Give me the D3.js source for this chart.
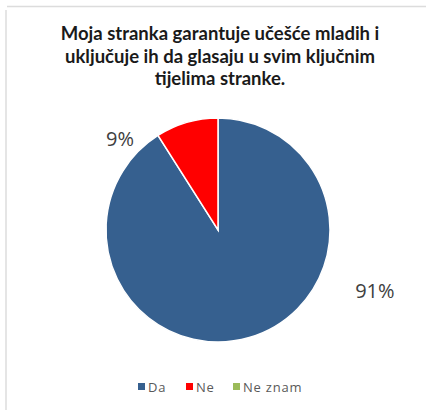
<!DOCTYPE html>
<html>
<head>
<meta charset="utf-8">
<script src="https://cdn.jsdelivr.net/npm/d3@7/dist/d3.min.js"></script>
<style>
  html, body { margin: 0; padding: 0; background: #ffffff; }
  svg { display: block; }
</style>
</head>
<body>
<svg id="chart" width="426" height="410"></svg>
<script>
// ---- data ----
const categories = ["Da", "Ne", "Ne znam"];
const values = [91, 9, 0];
const colors = ["#36608F", "#FF0000", "#9BBB59"];
const titleLines = ["Moja stranka garantuje učešće mladih i", "uključuje ih da glasaju u svim ključnim", "tijelima stranke."];

// ---- layout ----
const W = 426, H = 410;
const cx = 218, cy = 230, R = 112;
const svg = d3.select("#chart");

// frame lines
svg.append("line").attr("x1", 7).attr("x2", W).attr("y1", 6.5).attr("y2", 6.5)
  .attr("stroke", "#dcdcdc").attr("stroke-width", 1.5);
svg.append("line").attr("x1", 6).attr("x2", 6).attr("y1", 10).attr("y2", H)
  .attr("stroke", "#dcdcdc").attr("stroke-width", 1.5);

// title
const title = svg.append("text")
  .attr("text-anchor", "middle")
  .attr("font-family", "Lato, 'Open Sans', sans-serif")
  .attr("font-weight", "bold")
  .attr("font-size", 18.5)
  .attr("fill", "#1a1a1a");
titleLines.forEach((t, i) => {
  title.append("tspan").attr("x", 220).attr("y", 40 + i * 22.5).text(t);
});

// pie
const data = categories.map((c, i) => ({ cat: c, value: values[i], color: colors[i] }));
const pie = d3.pie().value(d => d.value).sort(null).startAngle(0).endAngle(2 * Math.PI);
const arcs = pie(data);
const arc = d3.arc().innerRadius(0).outerRadius(R);

const g = svg.append("g").attr("transform", `translate(${cx},${cy})`);
g.selectAll("path").data(arcs.filter(a => a.data.value > 0)).join("path")
  .attr("d", arc)
  .attr("fill", d => d.data.color)
  .attr("stroke", "#ffffff")
  .attr("stroke-width", 1.5);

// data labels (best-fit placement, polar offsets from centre)
const labelPlacement = { "Da": { angle: 111, r: 168 }, "Ne": { angle: 313, r: 134 } };
const fmt = d3.format(".0%");
const total = d3.sum(values);
g.selectAll("text.lbl").data(arcs.filter(a => a.data.value > 0)).join("text")
  .attr("class", "lbl")
  .attr("text-anchor", "middle")
  .attr("dominant-baseline", "central")
  .attr("font-family", "'Open Sans', sans-serif")
  .attr("font-size", 20)
  .attr("fill", "#404040")
  .attr("x", d => {
    const p = labelPlacement[d.data.cat]; const a = p.angle * Math.PI / 180;
    return Math.sin(a) * p.r;
  })
  .attr("y", d => {
    const p = labelPlacement[d.data.cat]; const a = p.angle * Math.PI / 180;
    return -Math.cos(a) * p.r;
  })
  .text(d => fmt(d.data.value / total));

// legend
const legendX = [138, 186, 233];
const legend = svg.append("g").attr("transform", "translate(0,383)");
const items = legend.selectAll("g").data(data).join("g")
  .attr("transform", (d, i) => `translate(${legendX[i]},0)`);
items.append("rect").attr("width", 7).attr("height", 7).attr("fill", d => d.color);
items.append("text").attr("x", 10).attr("y", 8.5)
  .attr("font-family", "'Open Sans', sans-serif")
  .attr("font-size", 13)
  .attr("letter-spacing", 0.8)
  .attr("fill", "#595959")
  .text(d => d.cat);
</script>
</body>
</html>
